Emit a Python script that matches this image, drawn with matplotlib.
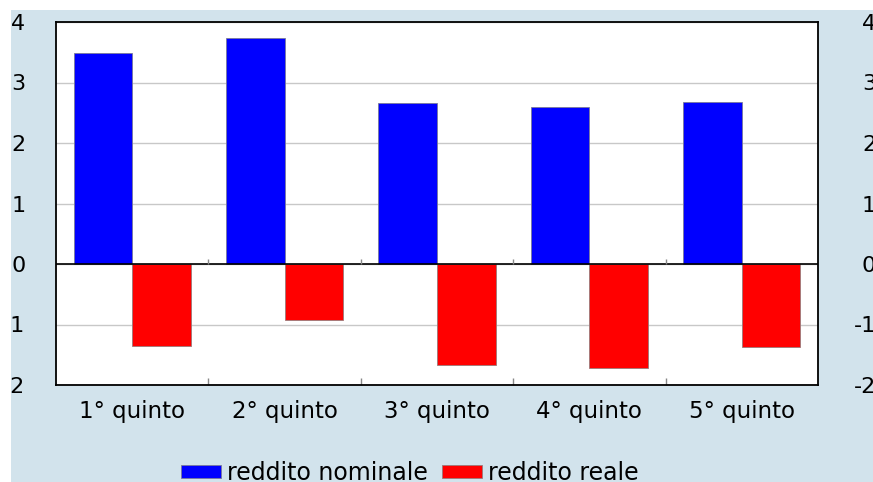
import matplotlib
matplotlib.use("Agg")
import matplotlib.pyplot as plt
from matplotlib.patches import Rectangle
from matplotlib.transforms import ScaledTranslation
import numpy as np

categories = ["1° quinto", "2° quinto", "3° quinto", "4° quinto", "5° quinto"]
nominale = [3.49, 3.74, 2.66, 2.60, 2.68]
reale = [-1.36, -0.93, -1.67, -1.72, -1.37]
series_names = ["reddito nominale", "reddito reale"]
yticks = [-2, -1, 0, 1, 2, 3, 4]
ytick_labels = ["-2", "-1", "0", "1", "2", "3", "4"]

W, H = 873, 482
fig = plt.figure(figsize=(W / 100, H / 100), dpi=100, facecolor="white")
plt.rcParams["font.family"] = ["DejaVu Sans"]

bg = Rectangle((11 / W, 0), 1, 1 - 10 / H, transform=fig.transFigure,
               facecolor="#d2e3ec", edgecolor="none", zorder=-1)
fig.patches.append(bg)

ax = fig.add_axes([56 / W, 1 - 385 / H, (818 - 56) / W, (385 - 22) / H])
ax.set_facecolor("white")

x = np.arange(len(categories))
bw = 0.385
ax.bar(x - bw / 2, nominale, bw, color="#0000ff", edgecolor="#7a7a9a",
       linewidth=0.6, label=series_names[0], zorder=3)
ax.bar(x + bw / 2, reale, bw, color="#ff0000", edgecolor="#9a7a7a",
       linewidth=0.6, label=series_names[1], zorder=3)

ax.set_xlim(-0.5, len(categories) - 0.5)
ax.set_ylim(-2, 4)
ax.set_yticks(yticks)
ax.set_yticklabels(ytick_labels)
ax.yaxis.grid(True, color="#c8c8c8", linewidth=1.0, zorder=0)
ax.set_axisbelow(True)

ax.axhline(0, color="black", linewidth=1.2, zorder=4)
bounds = np.arange(len(categories) - 1) + 0.5
ax.vlines(bounds, 0, 0.09, color="#888888", linewidth=1.0, zorder=4)

ax.set_xticks(bounds)
ax.set_xticklabels([])
ax.set_xticks(x, minor=True)
ax.set_xticklabels(categories, minor=True, fontsize=16.5)
ax.tick_params(axis="x", which="major", direction="in", length=5,
               color="#888888", width=1.0)
ax.tick_params(axis="x", which="minor", length=0, pad=11)

ypad = 22
ax.tick_params(axis="y", which="both", length=0, labelsize=16,
               labelleft=True, labelright=True, pad=ypad)
offset = ScaledTranslation(58 / 100 - ypad / 72, 0, fig.dpi_scale_trans)
for t in ax.yaxis.get_major_ticks():
    t.label2.set_horizontalalignment("right")
    t.label2.set_transform(t.label2.get_transform() + offset)

for s in ax.spines.values():
    s.set_color("black")
    s.set_linewidth(1.3)
    s.set_zorder(5)

fig.legend(loc="center", bbox_to_anchor=(410 / W, 1 - 473 / H), ncol=2,
           frameon=False, fontsize=17, handlelength=1.7, handleheight=0.5,
           handletextpad=0.25, columnspacing=0.6, borderpad=0, borderaxespad=0)

# left white strip (the reference is cropped there)
fig.patches.append(Rectangle((0, 0), 11 / W, 1, transform=fig.transFigure,
                             facecolor="white", edgecolor="none", zorder=20))

fig.savefig("out.png", dpi=100, facecolor="white")
